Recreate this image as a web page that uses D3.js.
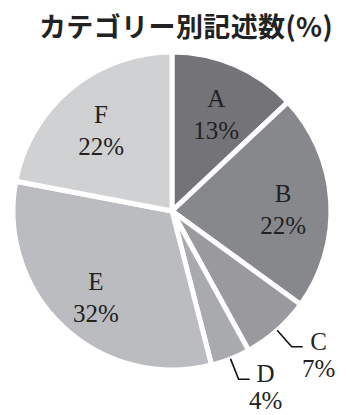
<!DOCTYPE html>
<html>
<head>
<meta charset="utf-8">
<script src="https://cdn.jsdelivr.net/npm/d3@7"></script>
<style>
  html, body { margin: 0; padding: 0; background: #fff; }
  #chart { width: 346px; height: 415px; }
</style>
</head>
<body>
<div id="chart"></div>
<script>

const titleText = "カテゴリー別記述数(%)"
const categories = ["A", "B", "C", "D", "E", "F"]
const values = [13, 22, 7, 4, 32, 22]
const colors = ["#747478", "#87888c", "#9a9a9e", "#a9aaad", "#bbbcbf", "#d0d1d3"]
// slices whose label sits outside with a leader line
const outsideLabels = ["C", "D"]

function drawChart() {

    const container = d3.select("#chart")
    container.selectAll("*").remove()

    const width = 346, height = 415
    const cx = 172, cy = 211
    const radius = 159

    const svg = container
        .append("svg")
        .attr("width", width)
        .attr("height", height)
        .attr("viewBox", `0 0 ${width} ${height}`)

    // title
    svg.append("text")
        .attr("x", 186)
        .attr("y", 37)
        .attr("text-anchor", "middle")
        .style("font-family", "'Noto Sans CJK JP', sans-serif")
        .style("font-weight", "bold")
        .style("font-size", "27px")
        .style("letter-spacing", "0.4px")
        .style("fill", "#222")
        .text(titleText)

    const dataset = categories.map((c, i) => ({ category: c, value: values[i], color: colors[i] }))

    const pie = d3.pie()
        .value(d => d.value)
        .sort(null)

    const arcs = pie(dataset)

    const arc = d3.arc()
        .innerRadius(0)
        .outerRadius(radius)

    const labelArc = d3.arc()
        .innerRadius(radius * 0.7)
        .outerRadius(radius * 0.7)

    const g = svg.append("g")
        .attr("transform", `translate(${cx},${cy})`)

    // slices
    g.selectAll(".slice")
        .data(arcs)
        .enter()
        .append("path")
        .attr("class", "slice")
        .attr("d", arc)
        .attr("fill", d => d.data.color)
        .attr("stroke", "#fff")
        .attr("stroke-width", 5)
        .attr("stroke-linejoin", "round")

    const serif = "'Liberation Serif', 'Times New Roman', serif"

    // inside labels
    const inside = arcs.filter(d => !outsideLabels.includes(d.data.category))

    const inLabels = g.selectAll(".inlabel")
        .data(inside)
        .enter()
        .append("text")
        .attr("class", "inlabel")
        .attr("text-anchor", "middle")
        .attr("transform", d => {
            const [x, y] = labelArc.centroid(d)
            return `translate(${x},${y})`
        })
        .style("font-family", serif)
        .style("font-size", "25px")
        .style("fill", "#222")

    inLabels.append("tspan")
        .attr("x", 0)
        .attr("y", -2)
        .text(d => d.data.category)

    inLabels.append("tspan")
        .attr("x", 0)
        .attr("y", 30)
        .text(d => d.data.value + "%")

    // outside labels with leader lines
    const outside = arcs.filter(d => outsideLabels.includes(d.data.category))

    const edgeArc = d3.arc().innerRadius(radius).outerRadius(radius)
    const outerArc = d3.arc().innerRadius(radius + 22).outerRadius(radius + 22)

    outside.forEach(d => {
        const p0 = edgeArc.centroid(d)
        const p1 = outerArc.centroid(d)
        const p2 = [p1[0] + 11, p1[1]]

        g.append("polyline")
            .attr("points", [p0, p1, p2].map(p => p.join(",")).join(" "))
            .attr("fill", "none")
            .attr("stroke", "#111")
            .attr("stroke-width", 1.6)

        const t = g.append("text")
            .attr("text-anchor", "middle")
            .style("font-family", serif)
            .style("font-size", "25px")
            .style("fill", "#222")

        t.append("tspan")
            .attr("x", p2[0] + 16)
            .attr("y", p2[1] + 3)
            .text(d.data.category)

        t.append("tspan")
            .attr("x", p2[0] + 16)
            .attr("y", p2[1] + 30)
            .text(d.data.value + "%")
    })
}

drawChart()
</script>
</body>
</html>
